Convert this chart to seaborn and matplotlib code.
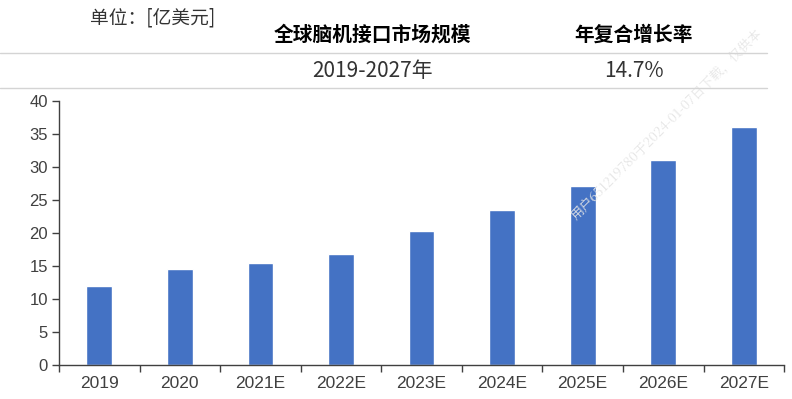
import matplotlib.pyplot as plt
import pandas as pd
import seaborn as sns
from matplotlib.lines import Line2D

years = ["2019", "2020", "2021E", "2022E", "2023E", "2024E", "2025E", "2026E", "2027E"]
market_size = [11.9, 14.5, 15.4, 16.8, 20.3, 23.5, 27.1, 31.0, 36.0]
unit_label = "单位：[亿美元]"
header_cols = ["全球脑机接口市场规模", "年复合增长率"]
row_cols = ["2019-2027年", "14.7%"]
watermark = "用户651219780于2024-01-07日下载，仅供本"

sns.set_style("ticks")
plt.rcParams["font.family"] = ["Liberation Sans", "Noto Sans CJK SC", "DejaVu Sans"]

df = pd.DataFrame({"year": years, "size": market_size})

fig = plt.figure(figsize=(7.92, 3.99), dpi=100)
ax = fig.add_axes([0.0745, 0.0852, 0.9155, 0.6617])

sns.barplot(data=df, x="year", y="size", color="#4472C4", width=0.32,
            saturation=1, ax=ax)

ax.set_xlim(-0.5, len(years) - 0.5)
ax.set_ylim(0, 40)
ax.set_yticks(range(0, 41, 5))
ax.set_xlabel("")
ax.set_ylabel("")
ax.set_xticks([i - 0.5 for i in range(len(years) + 1)], minor=True)
ax.tick_params(axis="x", which="major", length=0, pad=8, labelsize=12.5,
               labelcolor="#404040")
ax.tick_params(axis="x", which="minor", length=5, width=1, color="#404040",
               direction="out")
ax.tick_params(axis="y", length=5, width=1, color="#404040", labelsize=12,
               labelcolor="#404040", pad=3)
for side in ["top", "right"]:
    ax.spines[side].set_visible(False)
for side in ["left", "bottom"]:
    ax.spines[side].set_color("#404040")
    ax.spines[side].set_linewidth(1)

# table-like header above the chart
for y in [1 - 53.3 / 399, 1 - 88.3 / 399]:
    fig.add_artist(Line2D([0, 0.968], [y, y], transform=fig.transFigure,
                          color="#d4d4d4", lw=1))

cjk = ["Noto Sans CJK SC", "DejaVu Sans"]
fig.text(0.193, 0.955, unit_label, ha="center", va="center", fontsize=13.5,
         color="#333333", family=cjk)
for xc, head, val in zip([0.470, 0.8005], header_cols, row_cols):
    fig.text(xc, 0.912, head, ha="center", va="center", fontsize=14.2,
             fontweight="bold", color="black", family=cjk)
    fig.text(xc, 0.823, val, ha="center", va="center", fontsize=15,
             color="#333333", family=cjk)

fig.text(578 / 792, 1 - 222 / 399, watermark, ha="left", va="bottom",
         rotation=45, rotation_mode="anchor", fontsize=9.5, color="#e6e6e6",
         family=["Noto Serif CJK SC", "Noto Sans CJK SC", "DejaVu Sans"],
         zorder=0)

fig.savefig("out.png", dpi=100)
